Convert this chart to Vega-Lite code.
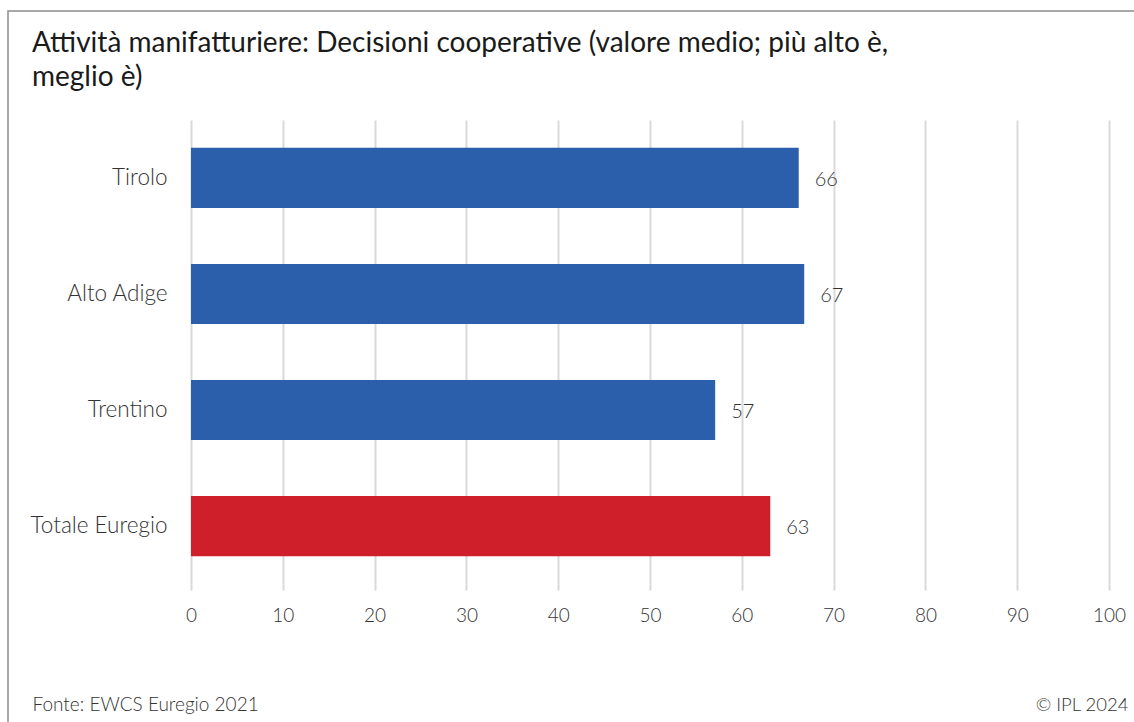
{
  "$schema": "https://vega.github.io/schema/vega-lite/v6.json",
  "width": 918,
  "height": 464,
  "autosize": {"type": "none"},
  "padding": {"left": 191, "top": 120, "right": 25, "bottom": 142},
  "background": "white",
  "config": {
    "font": "Lato",
    "view": {"stroke": null}
  },
  "title": {
    "text": ["Attività manifatturiere: Decisioni cooperative (valore medio; più alto è,", "meglio è)"],
    "anchor": "start",
    "frame": "group",
    "dx": -159,
    "offset": -82,
    "fontSize": 28,
    "fontWeight": 400,
    "color": "#1a1a1a",
    "lineHeight": 34,
    "font": "Lato"
  },
  "data": {
    "values": [
      {"area": "Tirolo", "valore": 66.2, "gruppo": "regione"},
      {"area": "Alto Adige", "valore": 66.8, "gruppo": "regione"},
      {"area": "Trentino", "valore": 57.1, "gruppo": "regione"},
      {"area": "Totale Euregio", "valore": 63.1, "gruppo": "totale"}
    ]
  },
  "encoding": {
    "y": {
      "field": "area",
      "type": "nominal",
      "sort": null,
      "scale": {"paddingInner": 0.483, "paddingOuter": 0.24},
      "axis": {
        "title": "© IPL 2024",
        "titleAngle": 0,
        "titleX": 937,
        "titleY": 590,
        "titleAlign": "right",
        "titleBaseline": "alphabetic",
        "titleFontSize": 18.5,
        "titleFontWeight": 300,
        "titleColor": "#333333",
        "domain": false,
        "ticks": false,
        "labelFontSize": 22.5,
        "labelFontWeight": 300,
        "labelColor": "#333333",
        "labelPadding": 24,
        "grid": false
      }
    },
    "x": {
      "field": "valore",
      "type": "quantitative",
      "scale": {"domain": [0, 100], "nice": false},
      "axis": {
        "values": [0, 10, 20, 30, 40, 50, 60, 70, 80, 90, 100],
        "title": "Fonte: EWCS Euregio 2021",
        "titleX": -159,
        "titleY": 126,
        "titleAnchor": "start",
        "titleAlign": "left",
        "titleBaseline": "alphabetic",
        "titleFontSize": 19,
        "titleFontWeight": 300,
        "titleColor": "#333333",
        "domain": false,
        "grid": true,
        "gridColor": "#d9d9d9",
        "gridWidth": 2,
        "tickColor": "#d9d9d9",
        "tickWidth": 2,
        "tickSize": 6,
        "labelFlush": false,
        "labelFontSize": 19,
        "labelFontWeight": 300,
        "labelColor": "#333333",
        "labelPadding": 16
      }
    }
  },
  "layer": [
    {
      "mark": {"type": "bar"},
      "encoding": {
        "color": {
          "field": "gruppo",
          "type": "nominal",
          "scale": {"domain": ["regione", "totale"], "range": ["#2b5eab", "#ce1f2a"]},
          "legend": null
        }
      }
    },
    {
      "mark": {"type": "text", "align": "left", "baseline": "middle", "dx": 16, "dy": 2, "fontSize": 20, "fontWeight": 300, "color": "#333333"},
      "encoding": {
        "text": {"field": "valore", "type": "quantitative", "format": ".0f"}
      }
    },
    {
      "data": {"values": [{}]},
      "mark": {"type": "rect", "fill": null, "stroke": "#8c8c8c", "strokeWidth": 1.5, "clip": false},
      "encoding": {
        "x": {"value": -183},
        "x2": {"value": 1200},
        "y": {"value": -109},
        "y2": {"value": 900}
      }
    }
  ]
}
